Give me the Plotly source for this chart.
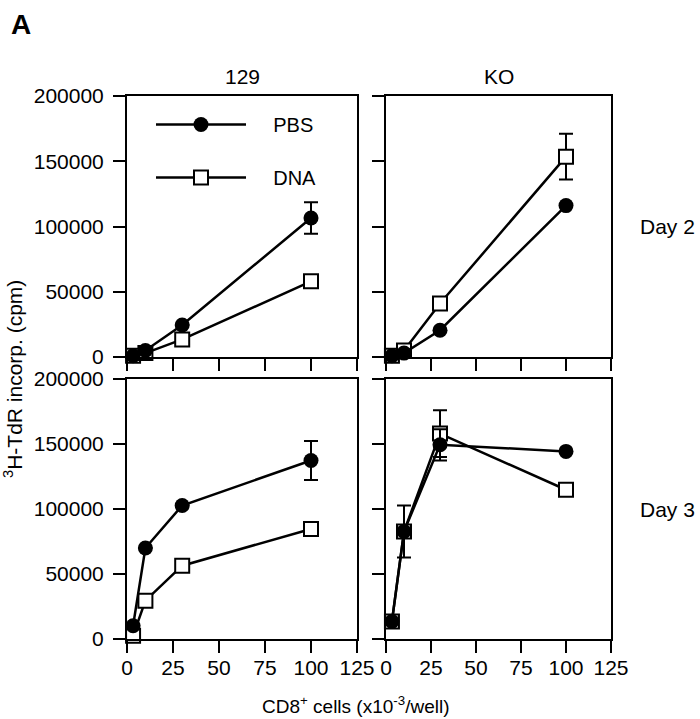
import plotly.graph_objects as go

# ---------------- data ----------------
cells = [3.3, 10, 30, 100]

pbs_129_d2 = [1000, 5000, 24500, 106500]
pbs_129_d2_err = [None, None, None, 12000]
dna_129_d2 = [1000, 3000, 13500, 58000]
dna_129_d2_err = [None, None, None, None]

pbs_ko_d2 = [1000, 3000, 20500, 116000]
pbs_ko_d2_err = [None, None, None, None]
dna_ko_d2 = [1000, 5000, 41000, 153500]
dna_ko_d2_err = [None, None, None, 17500]

pbs_129_d3 = [10200, 70000, 102700, 137300]
pbs_129_d3_err = [None, None, None, 15000]
dna_129_d3 = [2500, 29500, 56400, 84600]
dna_129_d3_err = [None, None, None, None]

pbs_ko_d3 = [13500, 82700, 149400, 144300]
pbs_ko_d3_err = [None, None, 12000, None]
dna_ko_d3 = [13500, 82700, 158000, 114800]
dna_ko_d3_err = [None, 20000, 18000, None]

x_ticks = [0, 25, 50, 75, 100, 125]
y_ticks = [0, 50000, 100000, 150000, 200000]
y_tick_text = ["0", "50000", "100000", "150000", "200000"]

col_titles = ["129", "KO"]
row_titles = ["Day 2", "Day 3"]

FONT = "Liberation Sans, Arial, Helvetica, sans-serif"
W, H = 700, 719

def px_x(p):
    return p / W

def px_y(p):
    return (H - p) / H

x_domains = [[px_x(127), px_x(357)], [px_x(386), px_x(611)]]
y_domains = [[px_y(357), px_y(96)], [px_y(639), px_y(379)]]  # row 0 top, row 1 bottom

panels = [
    (0, 0, pbs_129_d2, pbs_129_d2_err, dna_129_d2, dna_129_d2_err),
    (0, 1, pbs_ko_d2, pbs_ko_d2_err, dna_ko_d2, dna_ko_d2_err),
    (1, 0, pbs_129_d3, pbs_129_d3_err, dna_129_d3, dna_129_d3_err),
    (1, 1, pbs_ko_d3, pbs_ko_d3_err, dna_ko_d3, dna_ko_d3_err),
]

fig = go.Figure()
layout = {}
PAD = "\u00a0" * 4

for i, (r, c, pbs, pbs_err, dna, dna_err) in enumerate(panels):
    idx = i + 1
    xa = "x" if idx == 1 else f"x{idx}"
    ya = "y" if idx == 1 else f"y{idx}"
    first = idx == 1
    fig.add_trace(go.Scatter(
        x=cells, y=dna, xaxis=xa, yaxis=ya, mode="lines+markers",
        name=PAD + "DNA", legendgroup="dna", showlegend=first, legendrank=2,
        line=dict(color="black", width=2.5),
        marker=dict(symbol="square", size=14, color="white",
                    line=dict(color="black", width=2)),
        error_y=dict(type="data", array=dna_err, visible=True,
                     color="black", thickness=2, width=7),
        cliponaxis=False,
    ))
    fig.add_trace(go.Scatter(
        x=cells, y=pbs, xaxis=xa, yaxis=ya, mode="lines+markers",
        name=PAD + "PBS", legendgroup="pbs", showlegend=first, legendrank=1,
        line=dict(color="black", width=2.5),
        marker=dict(symbol="circle", size=15, color="black"),
        error_y=dict(type="data", array=pbs_err, visible=True,
                     color="black", thickness=2, width=7),
        cliponaxis=False,
    ))
    common = dict(showline=True, linewidth=2, linecolor="black", mirror=True,
                  ticks="outside", ticklen=12, tickwidth=2, tickcolor="black",
                  showgrid=False, zeroline=False,
                  tickfont=dict(family=FONT, size=21, color="black"))
    layout["xaxis" if idx == 1 else f"xaxis{idx}"] = dict(
        common, domain=x_domains[c], range=[0, 125], tickvals=x_ticks,
        showticklabels=(r == 1), anchor=ya, ticklabelstandoff=-3)
    layout["yaxis" if idx == 1 else f"yaxis{idx}"] = dict(
        common, domain=y_domains[r], range=[0, 200000], tickvals=y_ticks,
        ticktext=y_tick_text, showticklabels=(c == 0), anchor=xa,
        ticklabelstandoff=5)

annotations = []
for c, t in enumerate(col_titles):
    annotations.append(dict(text=t, x=sum(x_domains[c]) / 2, y=px_y(77),
                            xanchor="center", yanchor="middle",
                            xref="paper", yref="paper", showarrow=False,
                            font=dict(family=FONT, size=21, color="black")))
for r, t in enumerate(row_titles):
    annotations.append(dict(text=t, x=px_x(667), y=sum(y_domains[r]) / 2,
                            xanchor="center", yanchor="middle",
                            xref="paper", yref="paper", showarrow=False,
                            font=dict(family=FONT, size=21, color="black")))
annotations.append(dict(text="<b>A</b>", x=px_x(9), y=px_y(24),
                        xanchor="left", yanchor="middle",
                        xref="paper", yref="paper", showarrow=False,
                        font=dict(family=FONT, size=28, color="black")))
annotations.append(dict(text="<sup>3</sup>H-TdR incorp. (cpm)", x=px_x(13), y=px_y(379),
                        xanchor="center", yanchor="middle",
                        xref="paper", yref="paper", showarrow=False, textangle=-90,
                        font=dict(family=FONT, size=21, color="black")))
annotations.append(dict(text="CD8<sup>+</sup> cells (x10<sup>-3</sup>/well)",
                        x=px_x(355), y=px_y(705),
                        xanchor="center", yanchor="middle",
                        xref="paper", yref="paper", showarrow=False,
                        font=dict(family=FONT, size=19, color="black")))

fig.update_layout(
    **layout,
    width=W, height=H,
    margin=dict(l=0, r=0, t=0, b=0, autoexpand=False),
    paper_bgcolor="white", plot_bgcolor="white",
    annotations=annotations,
    showlegend=True,
    legend=dict(x=px_x(151), y=px_y(105), xanchor="left", yanchor="top",
                bgcolor="rgba(0,0,0,0)", traceorder="grouped", tracegroupgap=24,
                itemwidth=90,
                font=dict(family=FONT, size=20, color="black")),
)

fig.write_html(
    "out.html",
    config={"displayModeBar": False},
    post_script="document.body.style.margin='0';document.body.style.overflow='hidden';",
)
